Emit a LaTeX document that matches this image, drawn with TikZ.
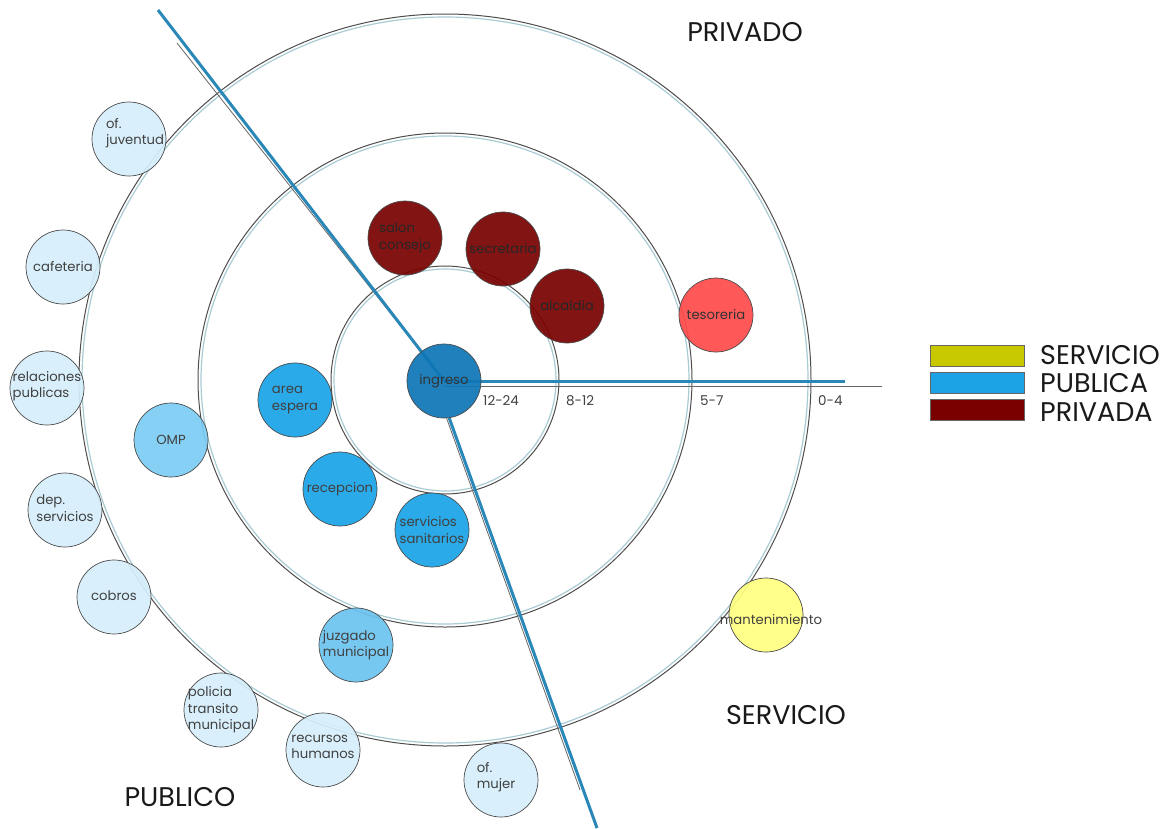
\documentclass[tikz,border=0pt]{standalone}
\usepackage{fontspec}
\setmainfont{Poppins}
\usetikzlibrary{backgrounds}
\definecolor{ringd}{HTML}{4D4D4D}
\definecolor{ringl}{HTML}{A9CCD4}
\definecolor{lineblue}{HTML}{2A88B8}
\definecolor{ingcol}{HTML}{0E76B6}
\definecolor{pubcol}{HTML}{1AA3E8}
\definecolor{ompcol}{HTML}{7DCDF5}
\definecolor{juzcol}{HTML}{6CC4F0}
\definecolor{lightcol}{HTML}{D6EFFC}
\definecolor{privcol}{HTML}{780000}
\definecolor{tescol}{HTML}{FF4A4A}
\definecolor{mantcol}{HTML}{FFFF7F}
\definecolor{legy}{HTML}{C8C800}
\definecolor{legb}{HTML}{1BA3E5}
\definecolor{legr}{HTML}{7A0000}
\tikzset{
  room/.style={circle, draw=black!70, line width=0.7pt, minimum size=74pt, inner sep=0pt, fill opacity=0.92},
  roomtext/.style={align=left, inner sep=0pt, font=\fontsize{13.2}{16.5}\selectfont, text=black!75},
  ringdark/.style={draw=ringd, line width=1pt},
  ringlight/.style={draw=ringl, line width=1.2pt},
  axis/.style={draw=lineblue, line width=3pt},
  axisgray/.style={draw=black!60, line width=0.8pt},
  numlabel/.style={anchor=west, font=\fontsize{13.5}{13.5}\selectfont, text=black!75, inner sep=0pt},
  biglabel/.style={font=\fontsize{27}{27}\selectfont, text=black!90, inner sep=0pt},
  legbox/.style={draw=black!60, line width=0.6pt, minimum width=94pt, minimum height=21pt, inner sep=0pt},
  legtext/.style={anchor=west, font=\fontsize{27}{27}\selectfont, text=black!90, inner sep=0pt}
}
\begin{document}
\begin{tikzpicture}[x=1pt,y=-1pt]
\useasboundingbox (0,0) rectangle (1165,828);
\coordinate (c) at (445,380);
\begin{scope}[on background layer]
  \fill[white] (0,0) rectangle (1165,828);
  \foreach \r in {114,247,366} {
    \draw[ringdark] (c) circle [radius=\r*1pt];
    \draw[ringlight] (c) circle [radius=\r*1pt-3pt];
  }
\end{scope}

% central node
\node[room, fill=ingcol] (ingreso) at (444,381) {};
\node[roomtext, text=black!80] (ingreso-t) at (ingreso) {ingreso};

% axes
\coordinate (tl) at (158,10);
\coordinate (tlg) at (177,43);
\coordinate (bt) at (597,828);
\coordinate (btg) at (580,790);
\coordinate (hr) at (845,381);
\coordinate (hrg) at (882,386);
\begin{scope}[on background layer]
  \draw[axisgray] (tlg) -- (ingreso.center);
  \draw[axis] (tl) -- (ingreso.center);
  \draw[axisgray] (ingreso.-86) -- (btg);
  \draw[axis] (ingreso.-82) -- (bt);
  \draw[axisgray] (ingreso.center |- hrg) -- (hrg);
  \draw[axis] (ingreso.center) -- (hr);
\end{scope}

% public (inner)
\node[room, fill=pubcol] (area) at (295,400) {};
\node[roomtext] (area-t) at (area) {area\\espera};
\node[room, fill=pubcol] (recep) at (340,489) {};
\node[roomtext] (recep-t) at (recep) {recepcion};
\node[room, fill=pubcol] (sanit) at (432,530) {};
\node[roomtext] (sanit-t) at (sanit) {servicios\\sanitarios};
\node[room, fill=ompcol] (omp) at (171,440) {};
\node[roomtext] (omp-t) at (omp) {OMP};
\node[room, fill=juzcol] (juz) at (356,645) {};
\node[roomtext] (juz-t) at (juz) {juzgado\\municipal};

% private
\node[room, fill=privcol] (salon) at (405,238) {};
\node[roomtext, text=black!85] (salon-t) at (salon) {salon\\consejo};
\node[room, fill=privcol] (secr) at (503,249) {};
\node[roomtext, text=black!85] (secr-t) at (secr) {secretaria};
\node[room, fill=privcol] (alc) at (567,306) {};
\node[roomtext, text=black!85] (alc-t) at (alc) {alcaldia};
\node[room, fill=tescol] (tes) at (716,315) {};
\node[roomtext, text=black!80] (tes-t) at (tes) {tesoreria};

% service
\node[room, fill=mantcol] (mant) at (766,615) {};
\node[roomtext] (mant-t) at (771,620) {mantenimiento};

% public (outer)
\node[room, fill=lightcol] (juv) at (129,139) {};
\node[roomtext] (juv-t) at (135,133) {of.\\juventud};
\node[room, fill=lightcol] (caf) at (63,267) {};
\node[roomtext] (caf-t) at (caf) {cafeteria};
\node[room, fill=lightcol] (rel) at (47,388) {};
\node[roomtext] (rel-t) at (47,386) {relaciones\\publicas};
\node[room, fill=lightcol] (dep) at (65,510) {};
\node[roomtext] (dep-t) at (65,508) {dep.\\servicios};
\node[room, fill=lightcol] (cob) at (114,597) {};
\node[roomtext] (cob-t) at (114,596) {cobros};
\node[room, fill=lightcol] (pol) at (221,710) {};
\node[roomtext] (pol-t) at (221,710) {policia\\transito\\municipal};
\node[room, fill=lightcol] (rrhh) at (323,750) {};
\node[roomtext] (rrhh-t) at (323,747) {recursos\\humanos};
\node[room, fill=lightcol] (muj) at (501,780) {};
\node[roomtext] (muj-t) at (496,777) {of.\\mujer};

% ring labels
\node[numlabel] (n1) at (483,401) {12-24};
\node[numlabel] (n2) at (566,401) {8-12};
\node[numlabel] (n3) at (700,401) {5-7};
\node[numlabel] (n4) at (818,401) {0-4};

% zone labels
\node[biglabel] (priv) at (745,32) {PRIVADO};
\node[biglabel] (serv) at (786,715) {SERVICIO};
\node[biglabel] (publ) at (180,797) {PUBLICO};

% legend
\node[legbox, fill=legy] (ly) at (977,355.5) {};
\node[legbox, fill=legb] (lb) at (977,382.5) {};
\node[legbox, fill=legr] (lr) at (977,410) {};
\node[legtext] (lyt) at (1040,355) {SERVICIO};
\node[legtext] (lbt) at (1040,383) {PUBLICA};
\node[legtext] (lrt) at (1040,412) {PRIVADA};
\end{tikzpicture}
\end{document}
